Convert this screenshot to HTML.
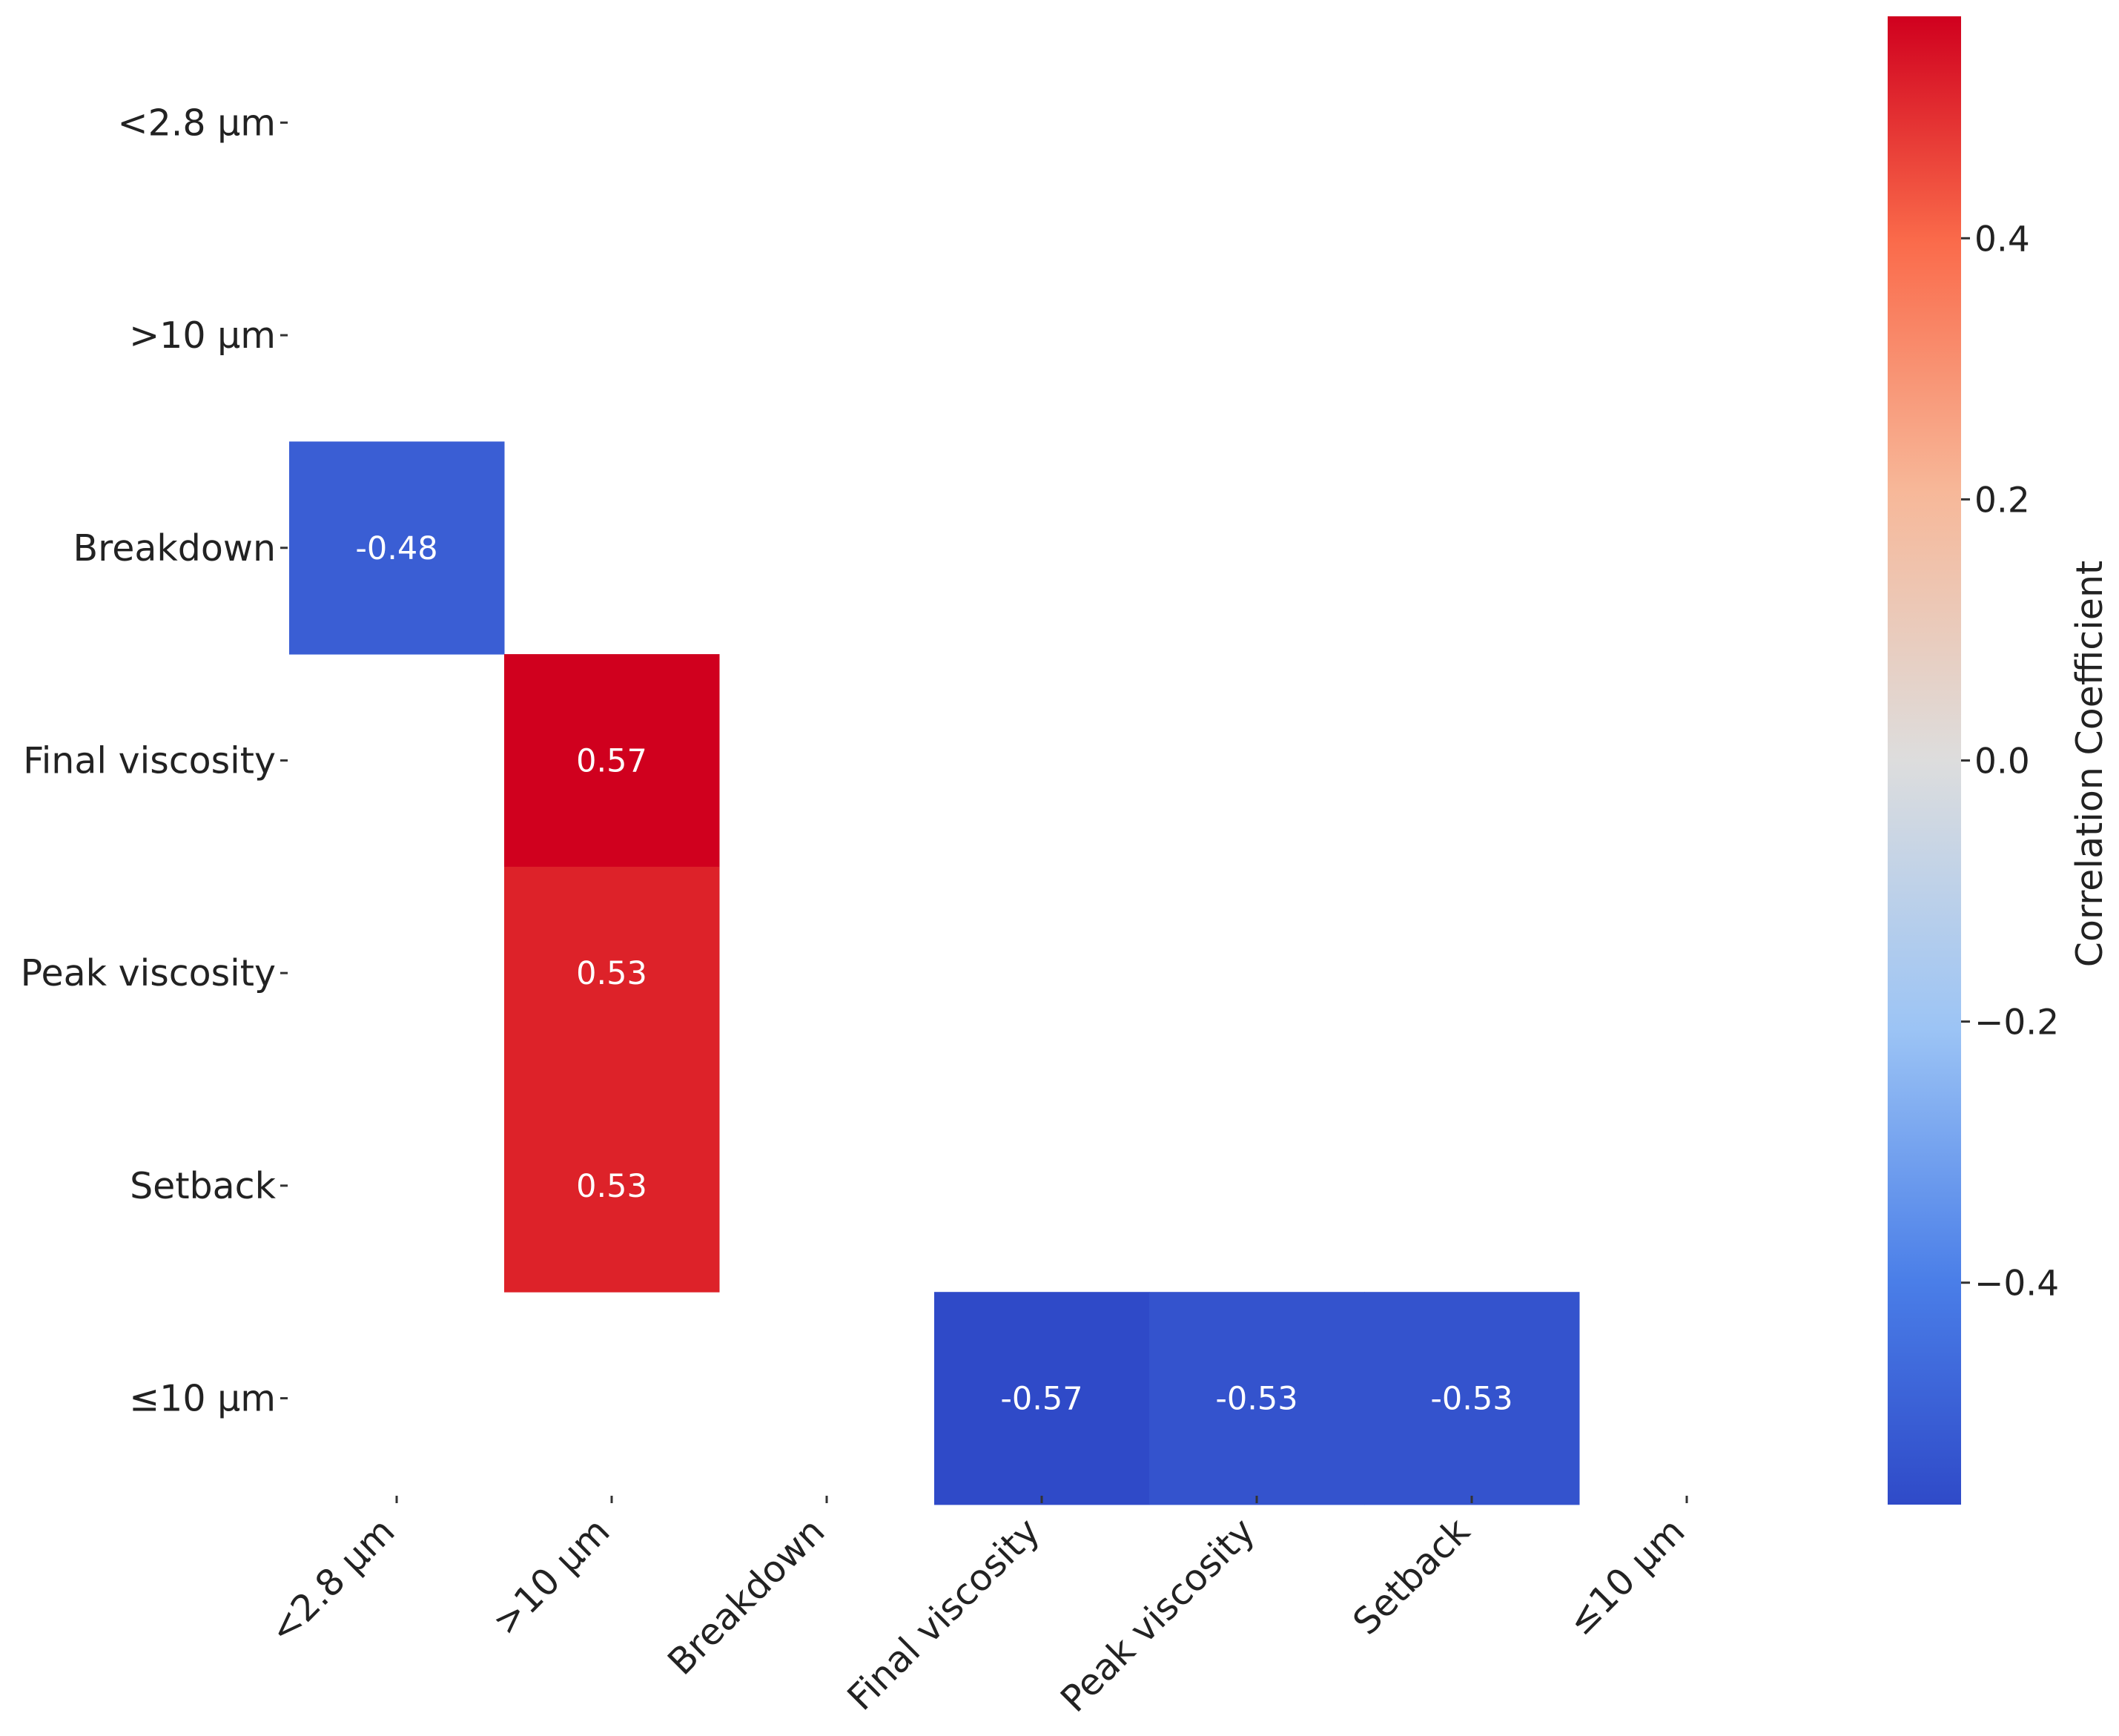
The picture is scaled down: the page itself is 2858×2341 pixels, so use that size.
<!DOCTYPE html>
<html><head><meta charset="utf-8"><style>
html,body{margin:0;padding:0;background:#fff;}
svg{display:block;font-family:"DejaVu Sans","Liberation Sans",sans-serif;}
</style></head><body>
<svg id="chart" width="2858" height="2341" viewBox="0 0 2858 2341" xmlns="http://www.w3.org/2000/svg">
<defs>
<linearGradient id="cbgrad" x1="0" y1="1" x2="0" y2="0">
<stop offset="0" stop-color="#2f4ac8"/>
<stop offset="0.15" stop-color="#4a7ee8"/>
<stop offset="0.32" stop-color="#9cc4f5"/>
<stop offset="0.5" stop-color="#dddddd"/>
<stop offset="0.68" stop-color="#f7b899"/>
<stop offset="0.85" stop-color="#fa6a4a"/>
<stop offset="1" stop-color="#d0001e"/>
</linearGradient>
</defs>
<g id="cells"></g>
<g id="axes"></g>
<g id="cbar"></g>
</svg>
<script>
const labels = ["<2.8 µm", ">10 µm", "Breakdown", "Final viscosity", "Peak viscosity", "Setback", "≤10 µm"];
const cellRows = [2, 3, 4, 5, 6, 6, 6];
const cellCols = [0, 1, 1, 1, 3, 4, 5];
const cellValues = [-0.48, 0.57, 0.53, 0.53, -0.57, -0.53, -0.53];
const cbarTicks = [-0.4, -0.2, 0.0, 0.2, 0.4];
const vmin = -0.57, vmax = 0.57;

const NS = "http://www.w3.org/2000/svg";
const L = 390, T = 22, CW = 290, RH = 286.7, N = 7;
const CBX = 2546, CBW = 99, CBT = 22, CBB = 2029;
function xs(i){ return L + i*CW; }
function ys(i){ return T + i*RH; }
function cy(v){ return CBB - (v - vmin)/(vmax - vmin)*(CBB - CBT); }
const stops = [[-0.57,[47,74,200]],[-0.4,[68,112,222]],[-0.2,[156,196,245]],[0,[221,221,221]],[0.2,[247,184,153]],[0.4,[250,106,74]],[0.53,[221,34,41]],[0.57,[208,0,30]]];
function color(v){
  for(let i=0;i<stops.length-1;i++){
    const a=stops[i], b=stops[i+1];
    if(v<=b[0]){ const t=Math.max(0,(v-a[0])/(b[0]-a[0])); const c=a[1].map((x,k)=>Math.round(x+(b[1][k]-x)*t)); return `rgb(${c})`; }
  }
  return "rgb(208,0,30)";
}
function mk(tag, attrs, parent){ const e=document.createElementNS(NS,tag); for(const k in attrs) e.setAttribute(k,attrs[k]); parent.appendChild(e); return e; }
const gc=document.getElementById("cells"), ga=document.getElementById("axes"), gb=document.getElementById("cbar");
cellValues.forEach((v,i)=>{
  const r=mk("rect",{x:xs(cellCols[i]),y:ys(cellRows[i]),width:CW+0.5,height:RH+0.5,fill:color(v)},gc);
  
  
  const t=mk("text",{x:xs(cellCols[i])+CW/2,y:ys(cellRows[i])+RH/2+15,"text-anchor":"middle","font-size":43,fill:"#fff"},gc);
  t.textContent=v.toFixed(2);
  
  
});
labels.forEach((lab,i)=>{
  const y=ys(i)+RH/2;
  const tk=mk("line",{x1:L-12,x2:L-2,y1:y,y2:y,stroke:"#333","stroke-width":3},ga);
  
  
  const t=mk("text",{x:L-18,y:y+17,"text-anchor":"end","font-size":49,fill:"#222"},ga);
  t.textContent=lab;
  
  
  const x=xs(i)+CW/2;
  const tk2=mk("line",{x1:x,x2:x,y1:CBB-12,y2:CBB-2,stroke:"#333","stroke-width":3},ga);
  
  
  const t2=mk("text",{x:x,y:2068,"text-anchor":"end","font-size":49,fill:"#222",transform:`rotate(-45 ${x} 2068)`},ga);
  t2.textContent=lab;
  
  
});
const bar=mk("rect",{x:CBX,y:CBT,width:CBW,height:CBB-CBT,fill:"url(#cbgrad)"},gb);


cbarTicks.forEach(v=>{
  const y=cy(v);
  const tk=mk("line",{x1:CBX+CBW,x2:CBX+CBW+12,y1:y,y2:y,stroke:"#333","stroke-width":3},gb);
  
  
  const t=mk("text",{x:CBX+CBW+18,y:y+17,"font-size":47,fill:"#222"},gb);
  t.textContent=(v<0?"\u2212":"")+Math.abs(v).toFixed(1);
  
  
});
const ct=mk("text",{x:2835,y:1030,"text-anchor":"middle","font-size":49,fill:"#222",transform:"rotate(-90 2835 1030)"},gb);
ct.textContent="Correlation Coefficient";


</script>
</body></html>
